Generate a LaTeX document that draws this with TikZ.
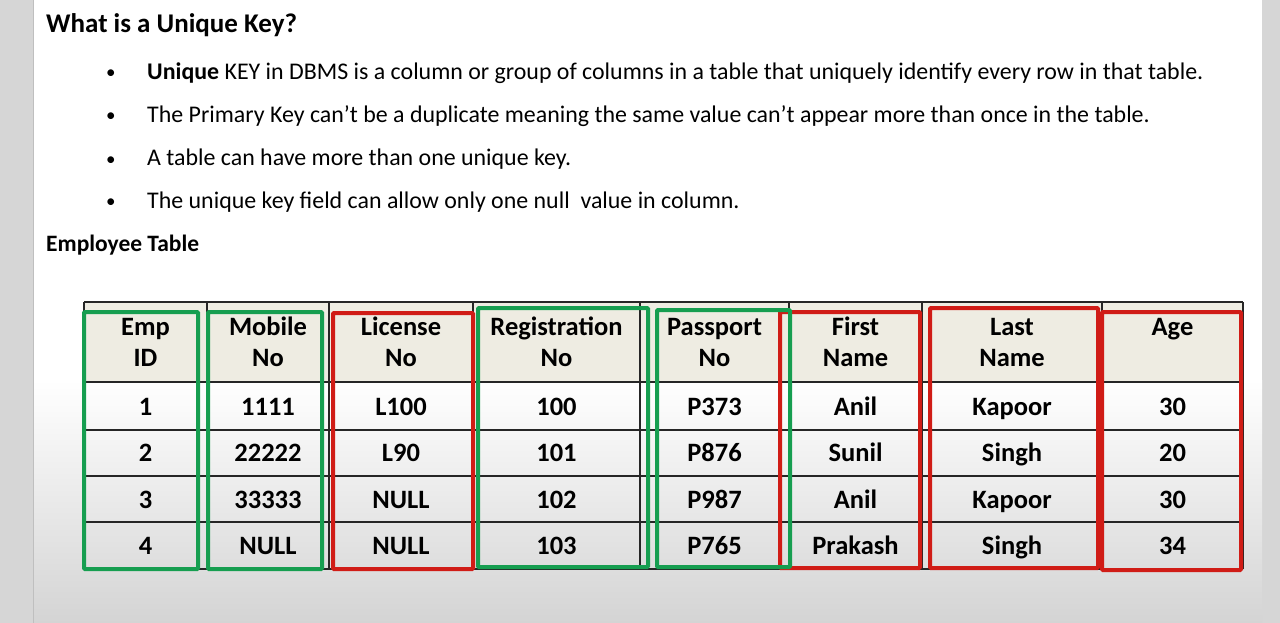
\documentclass[tikz,border=0pt]{standalone}
\usepackage{fontspec}
\setmainfont{Carlito}
\definecolor{keygreen}{RGB}{22,158,80}
\definecolor{keyred}{RGB}{208,28,22}
\definecolor{headtan}{RGB}{238,236,226}
\definecolor{slidegray}{RGB}{212,212,212}
\tikzset{
  keybox/.style={line width=4pt, rounded corners=1pt},
  grid/.style={line width=1.2pt, black!85},
  cell/.style={font=\fontsize{26.5}{31}\selectfont\bfseries, anchor=base, align=center, inner sep=0pt},
  point/.style={font=\fontsize{23.9}{28}\selectfont, anchor=base west, inner sep=0pt},
}
\begin{document}
\begin{tikzpicture}[x=1pt,y=-1pt]
            \useasboundingbox (0,0) rectangle (1280,623);
            \fill[slidegray!95!white] (0,0) rectangle (1280,623);
            \fill[white] (33,0) rectangle (1262,380);
            \shade[top color=white, bottom color=slidegray] (33,380) rectangle (1262,623);
            \draw[black!25] (33,0) -- (33,623);

            \node[anchor=base west, inner sep=0pt, font=\fontsize{27}{32}\selectfont\bfseries] (title) at (46,33) {What is a Unique Key?};
            \foreach \y/\t [count=\i] in {80/{\textbf{Unique} KEY in DBMS is a column or group of columns in a table that uniquely identify every row in that table.},
                123/{The Primary Key can’t be a duplicate meaning the same value can’t appear more than once in the table.},
                166/{A table can have more than one unique key.},
                208/{The unique key field can allow only one null\ \ value in column.}} {
                \node[point, font=\fontsize{19}{24}\selectfont] (dot\i) at (106,\y-1) {•};
                \node[point] (line\i) at (147,\y) {\t};
            }
            \node[anchor=base west, inner sep=0pt, font=\fontsize{23.5}{28}\selectfont\bfseries] (tabletitle) at (46,251) {Employee Table};

            \fill[headtan] (84,302) rectangle (1243,382);
            \foreach \x in {84,207,329,473,640,789,922,1102,1243}
                \draw[grid] (\x,302) -- (\x,569);
            \foreach \y in {302,382,430,476,522,569}
                \draw[grid] (84,\y) -- (1243,\y);

            \foreach \x/\y/\t [count=\c] in {145.5/366/{Emp\\ID}, 268/366/{Mobile\\No}, 401/366/{License\\No}, 556.5/366/{Registration\\No},
                714.5/366/{Passport\\No}, 855.5/366/{First\\Name}, 1012/366/{Last\\Name}, 1172.5/335/{Age}}
                \node[cell] (head\c) at (\x,\y) {\t};

            \foreach \row [count=\r] in {{1,1111,L100,100,P373,Anil,Kapoor,30},
                {2,22222,L90,101,P876,Sunil,Singh,20},
                {3,33333,NULL,102,P987,Anil,Kapoor,30},
                {4,NULL,NULL,103,P765,Prakash,Singh,34}}
                \foreach \v [count=\c] in \row {
                    \pgfmathsetmacro\cx{{145.5,268,401,556.5,714.5,855.5,1012,1172.5}[\c-1]}
                    \node[cell] (cell\r-\c) at (\cx,{415+(\r-1)*46.5}) {\v};
                }

            \draw[keybox, keyred] (333,313) rectangle (473,569);
            \draw[keybox, keyred] (780,312) rectangle (920,568);
            \draw[keybox, keyred] (930,308) rectangle (1098,568);
            \draw[keybox, keyred] (1102,312) rectangle (1241,570);
            \draw[keybox, keygreen] (84,312) rectangle (198,569);
            \draw[keybox, keygreen] (208,312) rectangle (322,569);
            \draw[keybox, keygreen] (478,308) rectangle (648,567);
            \draw[keybox, keygreen] (657,310) rectangle (790,567);
\end{tikzpicture}
\end{document}
